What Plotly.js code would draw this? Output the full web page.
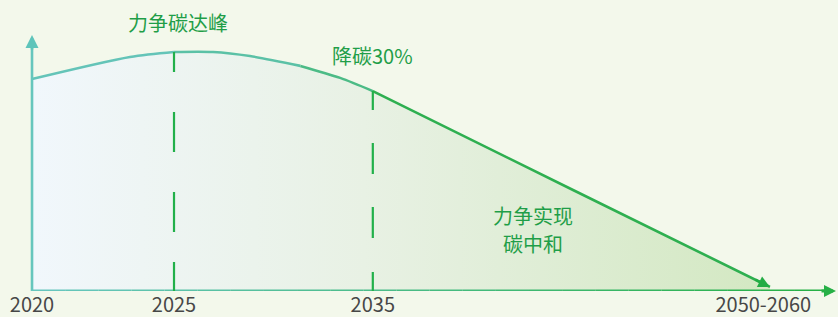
<!DOCTYPE html>
<html>
<head>
<meta charset="utf-8">
<script src="https://cdn.plot.ly/plotly-3.0.1.min.js"></script>
<style>html,body{margin:0;padding:0;background:#f3f8eb;}#chart{width:838px;height:317px;}</style>
</head>
<body>
<div id="chart"></div>
<script>
// timeline position (stage units) and relative emission level (peak = 100)
const stageX   = [0, 6.9, 10, 12.75, 15.35, 18.9, 21.7, 24, 38.1, 51.97];
const emission = [88.3, 97.5, 99.6, 99.6, 97.9, 93.8, 88.8, 83.3, 42.1, 1.7];

const tickPos    = [0, 10, 24, 51.5];
const tickLabels = ['2020', '2025', '2035', '2050-2060'];

const milestoneIdx   = [2, 7];            // points of 2025 and 2035 on the curve
const milestoneTexts = ['力争碳达峰', '降碳30%'];
const neutralLines   = ['力争实现', '碳中和'];
const neutralX       = 35.3;
const neutralY       = [31.3, 19.9];

const XR = [-2.254, 56.76], YR = [0, 121.25];
const pxPerX = 838 / (XR[1] - XR[0]);
const pxPerY = 291 / (YR[1] - YR[0]);

function mix(c1, c2, t) {
  const a = [1,3,5].map(i => parseInt(c1.substr(i,2),16));
  const b = [1,3,5].map(i => parseInt(c2.substr(i,2),16));
  return 'rgb(' + a.map((v,i)=>Math.round(v+(b[i]-v)*t)).join(',') + ')';
}

const traces = [];
// filled area
traces.push({
  x: stageX, y: emission, type: 'scatter', mode: 'lines',
  line: {width: 0, shape: 'spline', smoothing: 0.8},
  fill: 'tozeroy',
  fillgradient: {type: 'horizontal', colorscale: [[0, '#f1f7fc'], [0.45, '#e8f1e4'], [1, '#d3e8c2']]},
  hoverinfo: 'skip', showlegend: false
});
// curve, split into segments for a colour gradient
const segs = [[0,2,'#64c4b8'],[2,5,'#5bc1a6'],[5,7,'#4cbb86'],[7,9,'#2eaf50']];
segs.forEach(s => {
  traces.push({
    x: stageX.slice(s[0], s[1]+1), y: emission.slice(s[0], s[1]+1),
    type: 'scatter', mode: 'lines',
    line: {width: 2.6, color: s[2], shape: 'spline', smoothing: 0.8},
    hoverinfo: 'skip', showlegend: false
  });
});

const shapes = [];
// x axis line with gradient
const axEnd = 56.0, nSeg = 24;
for (let i = 0; i < nSeg; i++) {
  const a = axEnd * i / nSeg, b = axEnd * (i+1) / nSeg;
  shapes.push({type: 'line', xref: 'x', yref: 'y', x0: a, x1: b, y0: 0, y1: 0,
    line: {width: 3, color: mix('#66c6bd', '#27b046', i/(nSeg-1))}, layer: 'above'});
}
// y axis line
shapes.push({type: 'line', xref: 'x', yref: 'y', x0: 0, x1: 0, y0: 0, y1: 102,
  line: {width: 2.6, color: '#66c6bd'}, layer: 'above'});
// dashed milestone lines (drawn from curve down)
const dashes = ['20px,40px,40px,40px,40px,30px,30px', '19px,33px,31px,33px,31px,34px,19px'];
milestoneIdx.forEach((idx, k) => {
  shapes.push({type: 'line', xref: 'x', yref: 'y', x0: stageX[idx], x1: stageX[idx],
    y0: emission[idx], y1: 0, line: {width: 2.2, color: '#22b04a', dash: dashes[k]}, layer: 'above'});
});

const annotations = [];
const txtFont = {family: '"Noto Sans CJK SC", "Noto Sans", sans-serif', size: 20, color: '#1f9e48'};
annotations.push({x: stageX[milestoneIdx[0]] + 0.3, y: 111.7, xref: 'x', yref: 'y', text: milestoneTexts[0],
  showarrow: false, font: txtFont, xanchor: 'center', yanchor: 'middle'});
annotations.push({x: stageX[milestoneIdx[1]], y: 98.3, xref: 'x', yref: 'y', text: milestoneTexts[1],
  showarrow: false, font: txtFont, xanchor: 'center', yanchor: 'middle'});
neutralLines.forEach((t, i) => {
  annotations.push({x: neutralX, y: neutralY[i], xref: 'x', yref: 'y', text: t,
    showarrow: false, font: txtFont, xanchor: 'center', yanchor: 'middle', borderpad: 0});
});
// arrowheads
annotations.push({x: 0, y: 106.7, xref: 'x', yref: 'y', ax: 0, ay: 16, text: '', showarrow: true,
  arrowhead: 2, arrowsize: 1.0, arrowwidth: 2.6, arrowcolor: '#5ec4ba', standoff: 0});
annotations.push({x: (836/pxPerX) + XR[0], y: 0, xref: 'x', yref: 'y', ax: -16, ay: 0, text: '', showarrow: true,
  arrowhead: 2, arrowsize: 0.8, arrowwidth: 3, arrowcolor: '#27b046', standoff: 0});
const n = stageX.length;
const dxp = (stageX[n-1]-stageX[n-2]) * pxPerX, dyp = (emission[n-1]-emission[n-2]) * pxPerY;
const L = Math.hypot(dxp, dyp);
annotations.push({x: stageX[n-1], y: emission[n-1], xref: 'x', yref: 'y',
  ax: -dxp/L*18, ay: dyp/L*18, text: '', showarrow: true,
  arrowhead: 2, arrowsize: 0.9, arrowwidth: 2.6, arrowcolor: '#24ac45', standoff: 0});

const layout = {
  width: 838, height: 317,
  margin: {l: 0, r: 0, t: 0, b: 26, pad: 0},
  paper_bgcolor: '#f3f8eb', plot_bgcolor: '#f3f8eb',
  xaxis: {range: XR, showgrid: false, zeroline: false, showline: false, ticks: '',
    tickmode: 'array', tickvals: tickPos, ticktext: tickLabels,
    tickfont: {family: '"Noto Sans CJK SC", "Noto Sans", sans-serif', size: 20, color: '#474747'},
    fixedrange: true},
  yaxis: {range: YR, showgrid: false, zeroline: false, showline: false, showticklabels: false, ticks: '', fixedrange: true},
  shapes: shapes, annotations: annotations, showlegend: false
};

Plotly.newPlot('chart', traces, layout, {displayModeBar: false, staticPlot: true});
</script>
</body>
</html>
